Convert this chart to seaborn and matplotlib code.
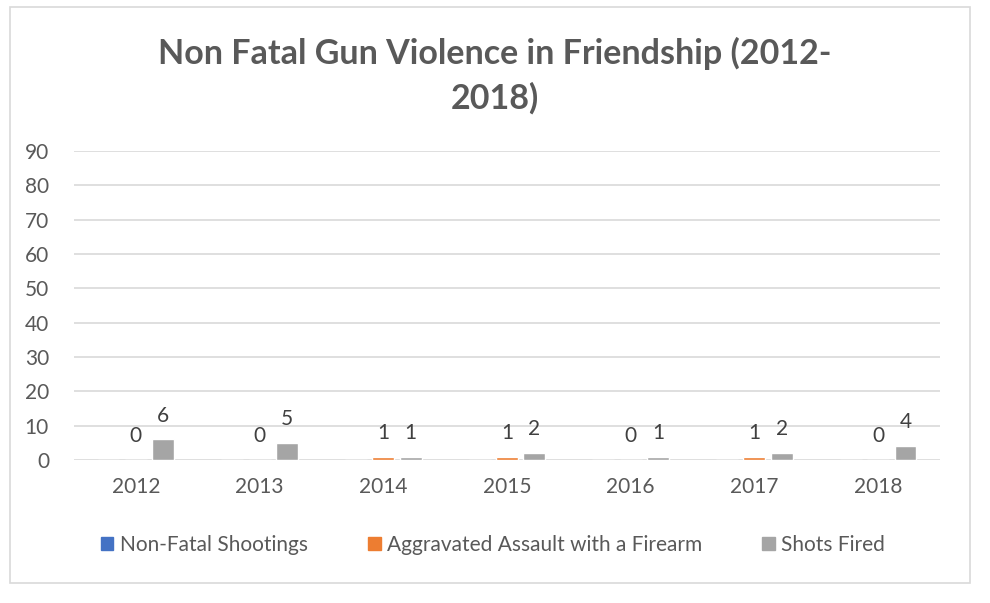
import matplotlib
matplotlib.use("Agg")
import matplotlib.pyplot as plt
import seaborn as sns
import pandas as pd
from matplotlib.patches import Patch, Rectangle

years = ["2012", "2013", "2014", "2015", "2016", "2017", "2018"]
non_fatal = [0, 0, 0, 0, 0, 0, 0]
aggravated = [0, 0, 1, 1, 0, 1, 0]
shots_fired = [6, 5, 1, 2, 1, 2, 4]
series_names = ["Non-Fatal Shootings", "Aggravated Assault with a Firearm", "Shots Fired"]
colors = ["#4472C4", "#ED7D31", "#A5A5A5"]
y_ticks = [0, 10, 20, 30, 40, 50, 60, 70, 80, 90]

rows = []
for name, vals in zip(series_names, [non_fatal, aggravated, shots_fired]):
    for y, v in zip(years, vals):
        rows.append({"Year": y, "Series": name, "Value": v})
df = pd.DataFrame(rows)

sns.set_theme(style="white")
plt.rcParams['font.family'] = ['Lato', 'DejaVu Sans']
text_color = "#595959"

fig = plt.figure(figsize=(9.9, 6.03), dpi=100)
ax = fig.add_axes([74/990, 1-460/603, (940-74)/990, (460-151)/603])

sns.barplot(data=df, x="Year", y="Value", hue="Series", hue_order=series_names,
            palette=colors, width=0.663, gap=0.2, ax=ax, legend=False,
            saturation=1, errorbar=None)

ax.set_ylim(0, 90)
ax.set_xlim(-0.5, len(years) - 0.5)
ax.set_yticks(y_ticks)
ax.yaxis.grid(True, color="#D9D9D9", linewidth=1.2)
ax.set_axisbelow(True)
for s in ["top", "right", "left", "bottom"]:
    ax.spines[s].set_visible(False)
ax.tick_params(axis="both", length=0, labelsize=15, colors=text_color)
ax.tick_params(axis="x", pad=12)
ax.tick_params(axis="y", pad=18)
ax.set_xlabel("")
ax.set_ylabel("")

# data labels for series 2 and 3
for cont, name in zip(ax.containers, series_names):
    if name == "Non-Fatal Shootings":
        continue
    ax.bar_label(cont, labels=[str(int(b.get_height())) for b in cont],
                 padding=10, fontsize=15, color="#404040")

fig.suptitle("Non Fatal Gun Violence in Friendship (2012-\n2018)", y=1-37/603,
             fontsize=24.5, fontweight="bold", color=text_color, linespacing=1.43, va="top")

handles = [Patch(facecolor=c, edgecolor=c) for c in colors]
fig.legend(handles, series_names, loc="center", bbox_to_anchor=(493/990, 1-545/603),
           ncol=3, frameon=False, fontsize=15, labelcolor=text_color,
           handlelength=0.6, handleheight=0.6, handletextpad=0.3, columnspacing=2.9)

fig.patches.append(Rectangle((10/990, 1-583/603), 960/990, 576/603,
                             transform=fig.transFigure, fill=False,
                             edgecolor="#D9D9D9", linewidth=1.2))

fig.savefig("out.png", dpi=100, facecolor="white")
